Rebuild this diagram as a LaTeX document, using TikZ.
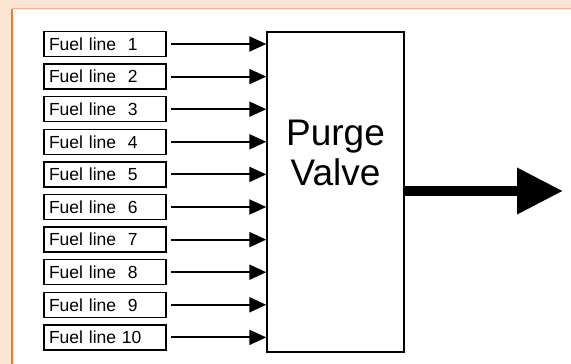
\documentclass[tikz,border=0pt]{standalone}
\usepackage{fontspec}
\setmainfont{Liberation Sans}
\usetikzlibrary{arrows.meta, positioning}

\definecolor{peach}{HTML}{FDE5D4}
\definecolor{rimtop}{HTML}{F9B282}
\definecolor{rimleft}{HTML}{F07A2A}

\begin{document}
\begin{tikzpicture}[
    x=1pt, y=-1pt,
    fuelbox/.style={draw, line width=1.4pt, minimum height=25pt, text width=112pt,
        inner xsep=5pt, inner ysep=0pt, align=left, font=\fontsize{17.5}{19}\selectfont},
    valvebox/.style={draw, line width=1.4pt, minimum width=137pt, minimum height=320pt},
    valvetext/.style={align=center, font=\fontsize{37}{40}\selectfont},
    feed/.style={line width=2pt, shorten <=4pt, -{Triangle[length=17pt, width=15pt]}},
    outflow/.style={line width=10pt, -{Triangle[length=46pt, width=44pt]}}
]

% Page and panel
\useasboundingbox (0,0) rectangle (571,364);
\fill[peach] (0,0) rectangle (571,364);
\fill[white] (12,8.5) rectangle (580,370);
\draw[rimtop, line width=1.5pt] (12,8.5) -- (571,8.5);
\draw[rimleft, line width=2pt] (12,8.5) -- (12,364);

% Purge valve
\node[valvebox] (valve) at (335.5,192) {};
\node[valvetext, yshift=39pt] (valvelabel) at (valve.center) {Purge\\Valve};

% Fuel lines
\foreach \i in {1,...,10}{
    \node[fuelbox] (fuel\i) at (105,{44+32.6*(\i-1)}) {Fuel line \ifnum\i<10\ \fi\i};
    \draw[feed] (fuel\i.east) -- (fuel\i.east -| valve.west);
}

% Output
\coordinate (outlet) at (563,191);
\draw[outflow] (valve.east |- outlet) -- (outlet);

\end{tikzpicture}
\end{document}
